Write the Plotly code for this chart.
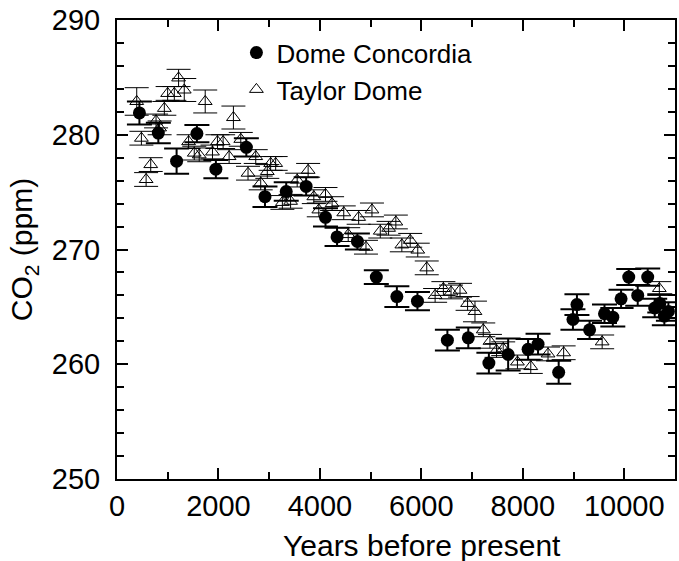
import plotly.graph_objects as go

# ---- data ----
dc_years = [442, 815, 1175, 1575, 1949, 2550, 2917, 3336, 3729, 4110, 4338, 4739,
            5112, 5517, 5923, 6513, 6925, 7331, 7711, 8104, 8300, 8707, 8988, 9067,
            9316, 9610, 9774, 9937, 10088, 10265, 10462, 10600, 10700, 10790, 10870]
dc_co2 = [281.9, 280.15, 277.7, 280.1, 277.0, 278.9, 274.6, 275.05, 275.5, 272.8, 271.1, 270.7,
          267.6, 265.9, 265.5, 262.1, 262.3, 260.1, 260.85, 261.3, 261.75, 259.3, 263.9, 265.2,
          263.0, 264.4, 264.1, 265.7, 267.6, 266.0, 267.6, 264.9, 265.3, 264.2, 264.6]
dc_err = [1.0, 0.9, 1.1, 0.75, 0.8, 0.8, 0.9, 0.8, 0.8, 0.8, 0.8, 0.7,
          0.6, 0.9, 0.8, 0.9, 0.9, 0.9, 1.4, 0.9, 0.9, 1.0, 0.9, 0.9,
          0.8, 0.8, 0.8, 0.8, 0.7, 0.9, 0.75, 0.8, 0.8, 0.8, 0.8]

td_years = [389, 481, 574, 665, 770, 840, 933, 998, 1130, 1214, 1326, 1411,
            1523, 1621, 1739, 1882, 1980, 2092, 2210, 2295, 2440, 2583, 2735, 2833,
            2963, 3029, 3128, 3260, 3422, 3552, 3768, 3880, 3978, 4110, 4240, 4470,
            4558, 4764, 4908, 5026, 5190, 5354, 5497, 5615, 5780, 5929, 6106, 6271,
            6434, 6585, 6762, 6911, 7057, 7220, 7352, 7482, 7613, 7894, 8157, 8497,
            8805, 9564, 10691]
td_co2 = [282.9, 279.7, 276.1, 277.4, 281.2, 280.6, 282.3, 283.6, 283.6, 284.95, 283.9, 279.4,
          278.4, 278.25, 282.9, 278.5, 279.4, 279.4, 278.1, 281.5, 279.6, 276.65, 278.1, 275.8,
          276.8, 277.5, 277.5, 274.1, 274.2, 276.05, 276.9, 274.6, 273.45, 274.8, 274.0, 273.2,
          271.3, 272.8, 270.2, 273.45, 271.6, 271.85, 272.4, 270.4, 270.8, 269.95, 268.4, 266.0,
          266.6, 266.3, 266.45, 265.3, 264.6, 263.0, 262.0, 261.2, 261.35, 260.2, 259.8, 260.9,
          261.0, 261.95, 266.6]
td_err = [1.2, 0.6, 0.6, 0.6, 0.6, 0.6, 0.6, 0.6, 0.6, 0.75, 1.0, 0.6,
          0.6, 0.6, 1.0, 0.6, 0.6, 0.6, 0.6, 1.0, 0.6, 0.6, 0.6, 0.6,
          0.6, 0.6, 0.6, 0.6, 0.6, 0.6, 0.6, 0.6, 0.6, 0.6, 0.6, 0.6,
          0.6, 0.6, 0.6, 0.6, 0.6, 0.6, 0.6, 0.6, 0.6, 0.6, 0.6, 0.6,
          0.6, 0.6, 0.6, 0.6, 0.9, 0.6, 0.6, 0.6, 0.6, 0.6, 0.6, 0.6,
          0.6, 0.6, 0.6]

x_ticks = [0, 2000, 4000, 6000, 8000, 10000]
x_minor = [1000, 3000, 5000, 7000, 9000, 11000]
y_ticks = [250, 260, 270, 280, 290]
y_minor = [252, 254, 256, 258, 262, 264, 266, 268, 272, 274, 276, 278, 282, 284, 286, 288]

FONT = "Liberation Sans, Arial, Helvetica, sans-serif"

fig = go.Figure()
fig.add_trace(go.Scatter(
    x=dc_years, y=dc_co2, mode="markers", name="Dome Concordia",
    marker=dict(symbol="circle", size=13, color="black"),
    error_y=dict(type="data", array=dc_err, visible=True, color="black",
                 thickness=2, width=12.5),
))
fig.add_trace(go.Scatter(
    x=td_years, y=td_co2, mode="markers", name="Taylor Dome",
    marker=dict(symbol="triangle-up-open", size=12, color="black",
                line=dict(width=1, color="black")),
    error_y=dict(type="data", array=td_err, visible=True, color="black",
                 thickness=1, width=12),
))

axis_common = dict(
    showline=True, linecolor="black", linewidth=2, mirror="allticks",
    ticks="inside", ticklen=11, tickwidth=2, tickcolor="black",
    showgrid=False, zeroline=False,
    tickfont=dict(family=FONT, size=29, color="black"),
)

fig.update_xaxes(
    range=[0, 11000], tickmode="array", tickvals=x_ticks,
    ticktext=[str(v) for v in x_ticks],
    minor=dict(tickmode="array", tickvals=x_minor, ticks="inside", ticklen=7,
               tickwidth=2, tickcolor="black", showgrid=False),
    **axis_common,
)
fig.update_yaxes(
    range=[250, 290], tickmode="array", tickvals=y_ticks,
    ticktext=[str(v) for v in y_ticks],
    ticklabelstandoff=9,
    minor=dict(tickmode="array", tickvals=y_minor, ticks="inside", ticklen=7,
               tickwidth=2, tickcolor="black", showgrid=False),
    title=dict(text="CO<sub>2</sub> (ppm)", font=dict(family=FONT, size=30, color="black"),
               standoff=10),
    **axis_common,
)

fig.add_annotation(
    text="Years before present", xref="paper", yref="paper",
    x=0.546, y=-0.144, xanchor="center", yanchor="middle", showarrow=False,
    font=dict(family=FONT, size=30, color="black"),
)

fig.update_layout(
    width=679, height=561,
    margin=dict(l=117, r=2, t=20, b=82),
    paper_bgcolor="white", plot_bgcolor="white",
    showlegend=True,
    legend=dict(x=0.214, y=0.98, xanchor="left", yanchor="top",
                bgcolor="rgba(0,0,0,0)", borderwidth=0,
                font=dict(family=FONT, size=26, color="black"),
                itemwidth=30, tracegroupgap=0),
    font=dict(family=FONT, color="black"),
)

fig.write_html("out.html")
